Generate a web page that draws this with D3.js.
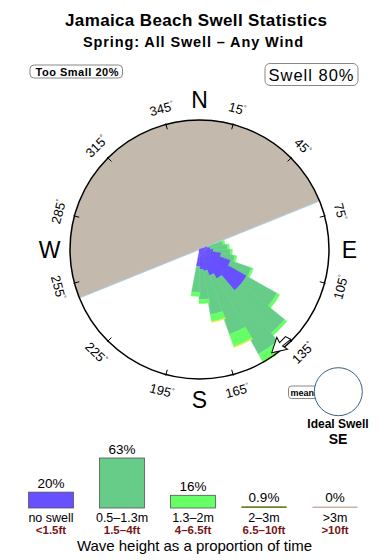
<!DOCTYPE html>
<html>
<head>
<meta charset="utf-8">
<script src="https://cdn.jsdelivr.net/npm/d3@7"></script>
<style>
body { margin: 0; background: #fff; }
text { font-family: "Liberation Sans", Arial, sans-serif; }
</style>
</head>
<body>
<script>
// direction bins (centre of each 10 degree sector)
var dirs = [75, 85, 95, 105, 115, 125, 135, 145, 155, 165, 175, 185];
// % of time per bin, by wave height class
var noSwell = [0.1, 0.18, 0.29, 0.72, 1.63, 4.36, 4.36, 1.73, 1.17, 0.72, 0.6, 0.43];
var smallSwell = [0.77, 0.99, 1.14, 1.21, 2.89, 7.48, 13.73, 19.8, 10.93, 5.79, 3.14, 2.33];
var midSwell = [0.15, 0.17, 0.19, 0.22, 0.33, 0.81, 1.0, 3.35, 3.75, 1.45, 0.62, 0.54];
var bigSwell = [0, 0, 0, 0, 0, 0, 0, 0.39, 0.31, 0.22, 0, 0];
var hugeSwell = [0, 0, 0, 0, 0, 0, 0, 0, 0, 0, 0, 0];

var classes = ["no swell", "0.5\u20131.3m", "1.3\u20132m", "2\u20133m", ">3m"];
var feet = ["<1.5ft", "1.5\u20134ft", "4\u20136.5ft", "6.5\u201310ft", ">10ft"];
var shares = [20, 63, 16, 0.9, 0];
var shareLabels = ["20%", "63%", "16%", "0.9%", "0%"];

var tickDegs = [15, 45, 75, 105, 135, 165, 195, 225, 255, 285, 315, 345];
var cardinals = [["N", 0], ["E", 90], ["S", 180], ["W", 270]];
var landFrom = 248, landTo = 428;   // land sector (deg)
var arrowDir = 145;                 // mean swell marker

var colors = ["#6650ff", "#66cc88", "#66ff66", "#e2e244", "#c9b3a5"];

var W = 390, H = 560;
var cx = 199.5, cy = 249.5, R = 129.5;
var rad = Math.PI / 180;

var svg = d3.select("body").append("svg")
	.attr("width", W)
	.attr("height", H)

svg.append("text").attr("x", 65).attr("y", 26)
	.attr("font-size", 17).attr("font-weight", "bold")
	.attr("textLength", 262).attr("lengthAdjust", "spacing")
	.text("Jamaica Beach Swell Statistics")
svg.append("text").attr("x", 83).attr("y", 47)
	.attr("font-size", 14.5).attr("font-weight", "bold")
	.attr("textLength", 220).attr("lengthAdjust", "spacing")
	.text("Spring: All Swell \u2013 Any Wind")

// top boxes
svg.append("rect").attr("x", 30).attr("y", 65).attr("width", 92.5).attr("height", 13)
	.attr("rx", 4).attr("fill", "#fff").attr("stroke", "#888")
svg.append("text").attr("x", 35.5).attr("y", 75.5)
	.attr("font-size", 11).attr("font-weight", "bold")
	.attr("textLength", 83).attr("lengthAdjust", "spacing")
	.text("Too Small 20%")
svg.append("rect").attr("x", 265).attr("y", 63.5).attr("width", 93).attr("height", 22)
	.attr("rx", 5).attr("fill", "#fff").attr("stroke", "#888")
svg.append("text").attr("x", 268.5).attr("y", 80.5)
	.attr("font-size", 16.5)
	.attr("textLength", 85).attr("lengthAdjust", "spacing")
	.text("Swell 80%")

// compass
var r = d3.scaleSqrt().domain([0, 25]).range([0, R]);
var g = svg.append("g").attr("transform", "translate(" + cx + "," + cy + ")");

g.append("circle").attr("r", R).attr("fill", "#fff")

g.append("path")
	.attr("d", d3.arc()({innerRadius: 0, outerRadius: R, startAngle: landFrom * rad, endAngle: landTo * rad}))
	.attr("fill", "#c4b9ad")
g.append("line")
	.attr("x1", R * Math.sin(landFrom * rad)).attr("y1", -R * Math.cos(landFrom * rad))
	.attr("x2", R * Math.sin(landTo * rad)).attr("y2", -R * Math.cos(landTo * rad))
	.attr("stroke", "#a8d0ec").attr("stroke-width", 1)

var series = [noSwell, smallSwell, midSwell, bigSwell, hugeSwell];
var segs = [];
dirs.forEach(function(dir, i) {
	var cum = 0;
	series.forEach(function(s, k) {
		if (s[i] > 0) {
			segs.push({dir: dir, k: k, r0: cum, r1: cum + s[i]});
			cum += s[i];
		}
	});
});
// slightly wider than the 10 degree bin so neighbours overlap like the original
var arc = d3.arc()
	.innerRadius(d => r(d.r0))
	.outerRadius(d => r(d.r1))
	.startAngle(d => (d.dir - 5.6) * rad)
	.endAngle(d => (d.dir + 5.6) * rad)
g.selectAll("seg").data(segs).enter()
	.append("path")
	.attr("d", arc)
	.attr("fill", d => colors[d.k])
	.attr("stroke", d => d3.color(colors[d.k]).brighter(0.25))
	.attr("stroke-width", 0.4)

g.append("circle").attr("r", R).attr("fill", "none").attr("stroke", "#000").attr("stroke-width", 1.5)

g.selectAll("tick").data(tickDegs).enter()
	.append("line")
	.attr("x1", d => (R - 5) * Math.sin(d * rad)).attr("y1", d => -(R - 5) * Math.cos(d * rad))
	.attr("x2", d => (R + 1) * Math.sin(d * rad)).attr("y2", d => -(R + 1) * Math.cos(d * rad))
	.attr("stroke", "#000").attr("stroke-width", 1)

function upright(d) {
	if (d > 90 && d < 270) return d - 180;
	if (d >= 270) return d - 360;
	return d;
}
var lab = g.selectAll("deg").data(tickDegs).enter()
	.append("text")
	.attr("transform", d => "translate(" + 146 * Math.sin(d * rad) + "," + (-146 * Math.cos(d * rad)) + ") rotate(" + upright(d) + ")")
	.attr("text-anchor", "middle")
	.attr("dy", "0.36em")
	.attr("font-size", 13)
lab.append("tspan").text(d => d)
lab.append("tspan").attr("font-size", 7).attr("dy", -5).text("\u00b0")

g.selectAll("card").data(cardinals).enter()
	.append("text")
	.attr("x", d => 150 * Math.sin(d[1] * rad))
	.attr("y", d => -150 * Math.cos(d[1] * rad))
	.attr("dy", "0.36em")
	.attr("text-anchor", "middle")
	.attr("font-size", 23)
	.text(d => d[0])

// swell marker arrow
var ax = 126 * Math.sin(arrowDir * rad), ay = -126 * Math.cos(arrowDir * rad);
g.append("path")
	.attr("d", "M0,0 L-14,-8 L-12.5,-2.2 L-23,-2.8 L-21,2.8 L-12.5,2.2 L-14,8 Z")
	.attr("transform", "translate(" + ax + "," + ay + ") rotate(" + (arrowDir - 7) + ")")
	.attr("fill", "#fff").attr("stroke", "#000").attr("stroke-width", 1)

// ideal swell
svg.append("rect").attr("x", 288.5).attr("y", 386).attr("width", 30).attr("height", 12.5)
	.attr("rx", 3).attr("fill", "#fff").attr("stroke", "#888")
svg.append("text").attr("x", 290.5).attr("y", 395.5).attr("font-size", 9).attr("font-weight", "bold")
	.text("mean")
svg.append("circle").attr("cx", 338.3).attr("cy", 391.7).attr("r", 24)
	.attr("fill", "#fff").attr("stroke", "#3a5f7f").attr("stroke-width", 1)
svg.append("text").attr("x", 338).attr("y", 428).attr("text-anchor", "middle")
	.attr("font-size", 12).attr("font-weight", "bold").text("Ideal Swell")
svg.append("text").attr("x", 338).attr("y", 443.5).attr("text-anchor", "middle")
	.attr("font-size", 14).attr("font-weight", "bold").text("SE")

// bottom bar chart
var x = d3.scaleBand().domain(classes).range([15.5, 370.5]).paddingInner(0.366).paddingOuter(0.183);
var y = d3.scaleLinear().domain([0, 63]).range([508, 458]);
var bars = classes.map((c, i) => ({c: c, v: shares[i], lab: shareLabels[i], ft: feet[i], i: i}));

svg.selectAll("bar").data(bars).enter()
	.append("rect")
	.attr("x", d => x(d.c))
	.attr("y", d => Math.min(y(d.v), 506.5))
	.attr("width", x.bandwidth())
	.attr("height", d => Math.max(508 - y(d.v), 1.5))
	.attr("fill", d => colors[d.i])
	.attr("stroke", d => d.v > 1 ? "#555" : null)
	.attr("stroke-width", 0.8)
svg.selectAll("bar4").data(bars.filter(d => d.v > 0 && d.v < 1)).enter()
	.append("rect")
	.attr("x", d => x(d.c)).attr("y", 506.3).attr("width", x.bandwidth()).attr("height", 1.7)
	.attr("fill", "#6f7f3a")

svg.selectAll("pct").data(bars).enter()
	.append("text")
	.attr("x", d => x(d.c) + x.bandwidth() / 2)
	.attr("y", d => Math.min(y(d.v), 506.5) - 4.5)
	.attr("text-anchor", "middle").attr("font-size", 13.5)
	.text(d => d.lab)
svg.selectAll("cls").data(bars).enter()
	.append("text")
	.attr("x", d => x(d.c) + x.bandwidth() / 2)
	.attr("y", 522)
	.attr("text-anchor", "middle").attr("font-size", 12.5)
	.text(d => d.c)
svg.selectAll("ft").data(bars).enter()
	.append("text")
	.attr("x", d => x(d.c) + x.bandwidth() / 2)
	.attr("y", 533.5)
	.attr("text-anchor", "middle").attr("font-size", 11.5).attr("font-weight", "bold")
	.attr("fill", "#7a1414")
	.text(d => d.ft)
svg.append("text").attr("x", 77).attr("y", 551)
	.attr("font-size", 15)
	.attr("textLength", 235).attr("lengthAdjust", "spacing")
	.text("Wave height as a proportion of time")
</script>
</body>
</html>
